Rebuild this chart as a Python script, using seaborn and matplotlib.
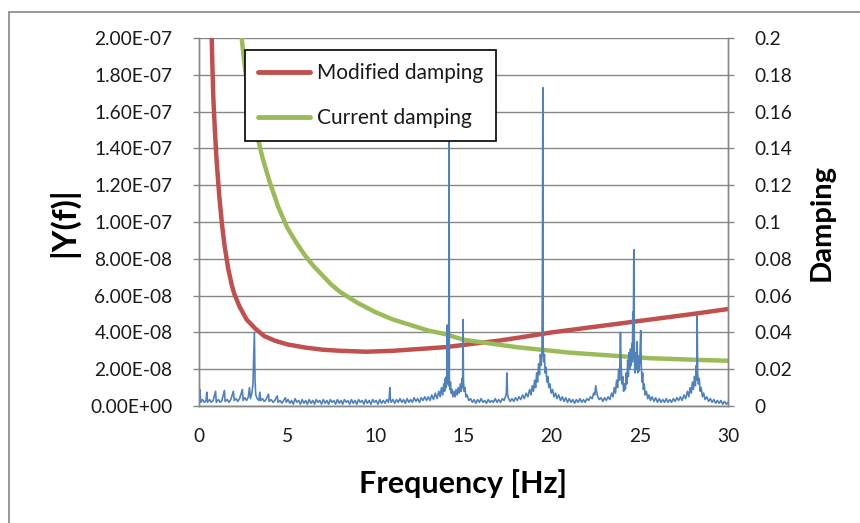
import matplotlib
matplotlib.use("Agg")
import matplotlib.pyplot as plt
import seaborn as sns
from matplotlib.lines import Line2D
from matplotlib.ticker import FuncFormatter, MultipleLocator

# ---------------- data ----------------
# spectrum |Y(f)|: (frequency [Hz], amplitude in units of 1e-8)
spectrum_points = [
    (0.0, 0.3), (0.05, 0.9), (0.1, 0.2), (0.2, 0.35), (0.3, 0.2), (0.4, 0.3), (0.44, 0.75),
    (0.48, 0.2), (0.6, 0.35), (0.7, 0.2), (0.8, 0.3), (0.94, 0.8), (0.98, 0.2), (1.1, 0.35),
    (1.2, 0.2), (1.3, 0.3), (1.44, 0.85), (1.48, 0.25), (1.6, 0.35), (1.7, 0.2), (1.8, 0.35),
    (1.95, 0.8), (2.0, 0.3), (2.1, 0.4), (2.2, 0.25), (2.3, 0.4), (2.46, 0.9), (2.5, 0.3),
    (2.6, 0.45), (2.7, 0.3), (2.8, 0.5), (2.86, 1.0), (2.92, 0.4), (3.0, 0.7), (3.06, 1.2),
    (3.1, 2.6), (3.14, 4.0), (3.18, 1.3), (3.22, 0.6), (3.3, 0.4), (3.4, 0.3), (3.45, 0.75),
    (3.5, 0.3), (3.6, 0.4), (3.7, 0.25), (3.8, 0.35), (3.94, 0.65), (3.98, 0.25), (4.1, 0.35),
    (4.2, 0.2), (4.3, 0.3), (4.44, 0.55), (4.48, 0.2), (4.6, 0.3), (4.7, 0.15), (4.8, 0.3),
    (4.9, 0.45), (4.95, 0.2),
    (5.05, 0.35), (5.15, 0.15), (5.25, 0.3), (5.35, 0.1), (5.45, 0.4), (5.55, 0.2), (5.65, 0.3),
    (5.75, 0.1), (5.85, 0.35), (5.95, 0.15), (6.05, 0.3), (6.15, 0.1), (6.25, 0.35), (6.35, 0.15),
    (6.45, 0.3), (6.55, 0.1), (6.65, 0.35), (6.75, 0.2), (6.85, 0.3), (6.95, 0.1), (7.05, 0.35),
    (7.15, 0.15), (7.25, 0.3), (7.35, 0.1), (7.45, 0.35), (7.55, 0.2), (7.65, 0.3), (7.75, 0.1),
    (7.85, 0.35), (7.95, 0.15), (8.05, 0.3), (8.15, 0.1), (8.25, 0.35), (8.35, 0.2), (8.45, 0.3),
    (8.55, 0.1), (8.65, 0.35), (8.75, 0.15), (8.85, 0.3), (8.95, 0.1), (9.05, 0.35), (9.15, 0.2),
    (9.25, 0.3), (9.35, 0.1), (9.45, 0.35), (9.55, 0.15), (9.65, 0.3), (9.75, 0.1), (9.85, 0.35),
    (9.95, 0.2), (10.05, 0.3), (10.15, 0.1), (10.25, 0.35), (10.35, 0.15), (10.45, 0.3),
    (10.55, 0.15), (10.65, 0.35), (10.74, 0.2), (10.79, 0.45), (10.82, 1.0), (10.85, 0.4),
    (10.9, 0.2), (11.0, 0.35), (11.1, 0.15), (11.2, 0.35), (11.3, 0.2), (11.4, 0.4), (11.5, 0.2),
    (11.6, 0.35), (11.7, 0.15), (11.8, 0.4), (11.9, 0.2), (12.0, 0.35), (12.1, 0.2), (12.2, 0.45),
    (12.3, 0.25), (12.4, 0.4), (12.5, 0.2), (12.6, 0.45), (12.7, 0.3), (12.8, 0.5), (12.9, 0.3),
    (13.0, 0.5), (13.1, 0.3), (13.2, 0.6), (13.3, 0.35), (13.4, 0.7), (13.5, 0.4), (13.6, 0.8),
    (13.68, 0.5), (13.75, 1.0), (13.82, 0.6), (13.88, 1.2), (13.93, 0.8), (13.97, 1.5),
    (14.0, 1.0), (14.03, 1.6), (14.06, 1.2), (14.08, 4.4), (14.1, 1.3), (14.13, 1.7),
    (14.16, 1.1), (14.18, 17.5), (14.2, 1.4), (14.23, 0.9), (14.26, 1.3), (14.3, 0.7),
    (14.34, 0.9), (14.4, 0.5), (14.46, 0.8), (14.52, 0.5), (14.58, 0.9), (14.64, 0.6),
    (14.7, 1.0), (14.76, 0.7), (14.82, 1.2), (14.87, 0.8), (14.92, 1.5), (14.95, 1.0),
    (14.97, 4.7), (15.0, 1.3), (15.04, 0.8), (15.08, 1.0), (15.14, 0.5), (15.2, 0.6), (15.3, 0.3),
    (15.4, 0.4), (15.5, 0.2), (15.6, 0.35), (15.7, 0.15), (15.8, 0.35), (15.9, 0.2), (16.0, 0.4),
    (16.1, 0.2), (16.2, 0.3), (16.3, 0.15), (16.4, 0.35), (16.5, 0.2), (16.6, 0.3), (16.7, 0.2),
    (16.8, 0.4), (16.9, 0.2), (17.0, 0.35), (17.1, 0.2), (17.2, 0.4), (17.3, 0.3), (17.38, 0.5),
    (17.43, 0.7), (17.46, 1.8), (17.5, 0.6), (17.56, 0.4), (17.65, 0.25), (17.75, 0.4),
    (17.85, 0.25), (17.95, 0.45), (18.05, 0.3), (18.15, 0.5), (18.25, 0.35), (18.35, 0.6),
    (18.45, 0.4), (18.55, 0.7), (18.65, 0.5), (18.75, 0.9),
    (18.83, 0.6), (18.9, 1.1), (18.97, 0.8), (19.03, 1.4), (19.09, 1.0), (19.15, 1.8),
    (19.2, 1.3), (19.26, 2.3), (19.31, 1.7), (19.36, 2.8), (19.41, 2.2), (19.45, 3.0),
    (19.48, 8.6), (19.5, 17.3), (19.52, 3.2), (19.55, 2.4), (19.59, 2.8), (19.63, 1.8),
    (19.68, 2.1), (19.73, 1.3), (19.78, 1.6), (19.84, 1.0), (19.9, 1.2), (19.97, 0.7),
    (20.05, 0.9), (20.13, 0.5), (20.22, 0.7), (20.3, 0.4), (20.4, 0.6), (20.5, 0.3),
    (20.6, 0.5), (20.7, 0.25), (20.8, 0.45), (20.9, 0.2), (21.0, 0.4), (21.1, 0.2), (21.2, 0.35),
    (21.3, 0.15), (21.4, 0.35), (21.5, 0.2), (21.6, 0.4), (21.7, 0.2), (21.8, 0.35), (21.9, 0.2),
    (22.0, 0.4), (22.1, 0.3), (22.2, 0.5), (22.3, 0.4), (22.38, 0.7), (22.44, 0.6), (22.5, 1.1),
    (22.56, 0.7), (22.62, 0.5), (22.7, 0.35), (22.8, 0.45), (22.9, 0.25), (23.0, 0.45),
    (23.1, 0.3), (23.2, 0.5), (23.3, 0.35), (23.4, 0.7), (23.48, 0.5),
    (23.55, 1.0), (23.62, 0.7), (23.68, 1.4), (23.74, 1.0), (23.8, 2.0), (23.85, 1.4),
    (23.9, 4.0), (23.94, 2.2), (23.98, 1.2), (24.03, 1.6), (24.08, 0.8), (24.13, 1.2),
    (24.18, 0.9), (24.23, 1.8), (24.27, 1.2), (24.31, 2.5), (24.35, 1.6), (24.39, 2.9),
    (24.43, 2.0), (24.47, 3.1), (24.51, 2.2), (24.55, 3.4), (24.58, 2.4), (24.6, 5.1),
    (24.62, 2.6), (24.66, 8.5), (24.69, 2.8), (24.72, 1.8), (24.75, 2.9), (24.78, 2.0),
    (24.82, 2.6), (24.85, 3.5), (24.88, 1.8), (24.92, 2.7), (24.96, 1.9), (25.0, 2.6),
    (25.05, 4.1), (25.08, 2.3), (25.12, 1.3), (25.16, 1.8), (25.2, 0.9), (25.25, 1.2),
    (25.3, 0.6), (25.37, 0.8), (25.45, 0.4), (25.52, 0.6),
    (25.6, 0.3), (25.7, 0.5), (25.8, 0.25), (25.9, 0.45), (26.0, 0.2), (26.1, 0.4), (26.2, 0.2),
    (26.3, 0.35), (26.4, 0.2), (26.5, 0.4), (26.6, 0.2), (26.7, 0.35), (26.8, 0.2), (26.9, 0.4),
    (27.0, 0.25), (27.1, 0.45), (27.2, 0.3), (27.3, 0.5), (27.4, 0.3), (27.5, 0.6), (27.6, 0.4),
    (27.7, 0.8), (27.78, 0.5), (27.85, 1.0), (27.92, 0.7), (27.98, 1.3), (28.04, 0.9),
    (28.1, 1.6), (28.15, 1.1), (28.2, 2.2), (28.23, 1.4), (28.25, 4.9), (28.28, 1.8),
    (28.32, 1.2), (28.37, 1.5), (28.42, 0.8), (28.48, 1.0), (28.55, 0.5), (28.62, 0.7),
    (28.7, 0.35), (28.8, 0.5), (28.9, 0.25), (29.0, 0.4), (29.1, 0.2), (29.2, 0.35), (29.3, 0.15),
    (29.4, 0.3), (29.5, 0.15), (29.6, 0.3), (29.7, 0.1), (29.8, 0.25), (29.9, 0.1), (30.0, 0.2),
]
spec_freq = [p[0] for p in spectrum_points]
spec_amp = [p[1] * 1e-8 for p in spectrum_points]

# damping curves (right axis)
mod_freq = [0.72, 0.76, 0.81, 0.9, 1.0, 1.15, 1.3, 1.45, 1.65, 1.85, 2.0, 2.3, 2.7, 3.2,
            3.7, 4.3, 5.0, 6.0, 7.0, 8.0, 9.5, 11.0, 12.5, 14.0, 15.5, 17.0, 18.5, 20.0,
            22.0, 24.0, 26.0, 28.0, 30.0]
mod_damp = [0.2, 0.185, 0.168, 0.150, 0.133, 0.114, 0.099, 0.087, 0.075, 0.066, 0.061,
            0.054, 0.047, 0.042, 0.038, 0.0355, 0.0335, 0.0318, 0.0306, 0.030, 0.0295,
            0.030, 0.031, 0.032, 0.0338, 0.0355, 0.0377, 0.040, 0.0425, 0.045, 0.0475,
            0.050, 0.0527]
cur_freq = [2.42, 2.6, 2.8, 3.0, 3.3, 3.6, 4.0, 4.5, 5.0, 5.5, 6.0, 6.5, 7.0, 7.5, 8.0,
            9.0, 10.0, 11.0, 12.0, 13.0, 14.0, 15.0, 16.5, 18.0, 19.5, 21.0, 22.5, 24.0,
            25.5, 27.0, 28.5, 30.0]
cur_damp = [0.2, 0.184, 0.171, 0.160, 0.147, 0.135, 0.122, 0.108, 0.097, 0.089, 0.082,
            0.076, 0.071, 0.066, 0.062, 0.056, 0.051, 0.047, 0.044, 0.041, 0.039, 0.036,
            0.034, 0.032, 0.0305, 0.029, 0.028, 0.027, 0.026, 0.0255, 0.025, 0.0246]

series_names = ["Modified damping", "Current damping"]
x_ticks = [0, 5, 10, 15, 20, 25, 30]

# ---------------- styling ----------------
sns.set_theme(style="white")
plt.rcParams['font.family'] = ['Lato', 'DejaVu Sans']

BLUE = "#4F81BD"
RED = "#C0504D"
GREEN = "#9BBB59"
GRAY = "#868686"
TXT = "#1a1a1a"

fig = plt.figure(figsize=(8.6, 5.23), dpi=100)
ax = fig.add_axes([199/860, 1-406/523, (728-199)/860, (406-38)/523])
ax2 = ax.twinx()

sns.lineplot(x=mod_freq, y=mod_damp, ax=ax2, color=RED, linewidth=3.2,
             estimator=None, sort=False)
sns.lineplot(x=cur_freq, y=cur_damp, ax=ax2, color=GREEN, linewidth=3.2,
             estimator=None, sort=False)

sns.lineplot(x=spec_freq, y=spec_amp, ax=ax, color=BLUE, linewidth=1.2,
             estimator=None, sort=False)

ax.set_zorder(ax2.get_zorder() + 1)
ax.patch.set_visible(False)

ax.set_xlim(0, 30)
ax.set_ylim(0, 2e-7)
ax2.set_ylim(0, 0.2)
ax.set_xticks(x_ticks)
ax.yaxis.set_major_locator(MultipleLocator(2e-8))
ax2.yaxis.set_major_locator(MultipleLocator(0.02))
ax.yaxis.set_major_formatter(FuncFormatter(lambda v, p: "%.2E" % v))
ax2.yaxis.set_major_formatter(FuncFormatter(lambda v, p: "%g" % round(v, 2)))

ax.grid(False)
ax2.grid(True, axis="y", color=GRAY, linewidth=1.0)
ax2.grid(False, axis="x")
ax2.set_axisbelow(True)

for a in (ax, ax2):
    for sp in a.spines.values():
        sp.set_color(GRAY)
        sp.set_linewidth(1.0)
    a.spines['top'].set_visible(False)

ax.tick_params(axis="y", direction="out", length=4, width=1, color=GRAY,
               pad=15, labelsize=13.8, labelcolor=TXT)
ax.tick_params(axis="x", length=0, pad=16, labelsize=13.8, labelcolor=TXT)
ax2.tick_params(axis="y", direction="out", length=4, width=1, color=GRAY,
                pad=15, labelsize=13.8, labelcolor=TXT)

ax.set_xlabel("Frequency [Hz]", fontsize=22, fontweight="bold", labelpad=17, color="black")
ax.set_ylabel("|Y(f)|", fontsize=24, fontweight="bold", labelpad=8, color="black")
ax2.set_ylabel("Damping", fontsize=21, fontweight="bold", labelpad=12, color="black")

handles = [Line2D([], [], color=RED, linewidth=3.5),
           Line2D([], [], color=GREEN, linewidth=3.5)]
leg = ax.legend(handles, series_names, loc="upper left",
                bbox_to_anchor=((245-199)/529, (406-50)/368),
                frameon=True, fancybox=False, framealpha=1.0, edgecolor="black",
                fontsize=15, handlelength=2.5, handletextpad=0.35,
                labelspacing=1.2, borderpad=0.62, borderaxespad=0)
leg.get_frame().set_linewidth(1.2)
for t in leg.get_texts():
    t.set_color(TXT)

# chart-area border (left and top edges visible in the reference)
fig.add_artist(Line2D([8.5/860, 8.5/860], [0, 1-12/523], color=GRAY, linewidth=1.2,
                      transform=fig.transFigure))
fig.add_artist(Line2D([8.5/860, 1], [1-12/523, 1-12/523], color=GRAY, linewidth=1.2,
                      transform=fig.transFigure))

fig.savefig("out.png", dpi=100)
